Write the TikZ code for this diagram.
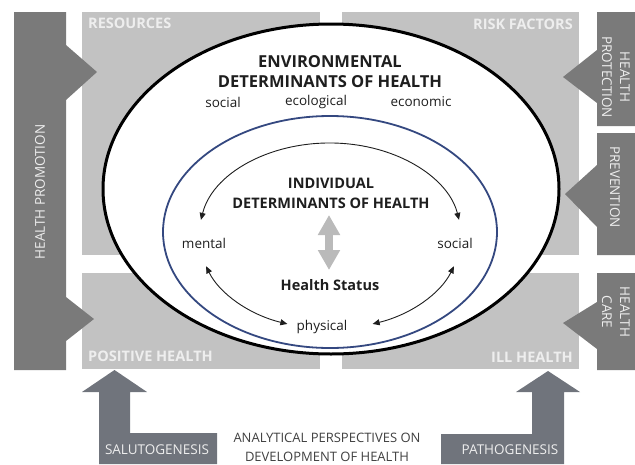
\documentclass[tikz,border=0pt]{standalone}
\usepackage{fontspec}
\setmainfont{Open Sans}
\usetikzlibrary{arrows.meta,calc}

\definecolor{bardark}{RGB}{122,122,122}
\definecolor{boxlight}{RGB}{194,194,194}
\definecolor{arrowgrey}{RGB}{112,116,124}
\definecolor{labelwhite}{RGB}{238,238,238}
\definecolor{ringblue}{RGB}{52,72,128}
\definecolor{inkgrey}{RGB}{30,30,30}
\definecolor{midgrey}{RGB}{186,186,186}

\begin{document}
\begin{tikzpicture}[x=1pt,y=-1pt,
  panel/.style={fill=boxlight,draw=none},
  bar/.style={fill=bardark,draw=none},
  paneltxt/.style={text=labelwhite,inner sep=0pt,font=\bfseries\fontsize{14.5}{16}\selectfont},
  bartxt/.style={text=labelwhite,inner sep=0pt,align=center,font=\fontsize{13.5}{18}\selectfont},
  headtxt/.style={text=inkgrey,inner sep=0pt,align=center,font=\bfseries\fontsize{16.5}{20}\selectfont},
  subhead/.style={text=inkgrey,inner sep=0pt,align=center,font=\bfseries\fontsize{14.5}{20}\selectfont},
  plaintxt/.style={text=inkgrey,inner sep=0pt,font=\fontsize{13.5}{16}\selectfont},
  cycarrow/.style={draw=inkgrey,line width=0.9pt,
    {Triangle[length=7pt,width=6pt]}-{Triangle[length=7pt,width=6pt]}},
  linkarrow/.style={draw=midgrey,line width=8pt,
    {Triangle[length=20pt,width=21pt]}-{Triangle[length=20pt,width=21pt]}}]

\useasboundingbox (0,0) rectangle (635,464);

% light panels
\fill[panel] (82,12) rectangle (320,255);
\fill[panel] (342,12) rectangle (579,255);
\fill[panel] (82,273) rectangle (320,369);
\fill[panel] (342,273) rectangle (579,369);

% health promotion bar with its two pointers
\fill[bar] (14,12) -- (66,12) -- (66,45) -- (97,72) -- (66,100) -- (66,297)
  -- (94,319) -- (66,341) -- (66,370) -- (14,370) -- cycle;

% right-hand bars pointing into the panels
\fill[bar] (597,12) -- (635,12) -- (635,126) -- (597,126) -- (597,103)
  -- (563,77) -- (597,50) -- cycle;
\fill[bar] (597,133) -- (635,133) -- (635,255) -- (597,255) -- (597,227)
  -- (565,194) -- (597,165) -- cycle;
\fill[bar] (597,273) -- (635,273) -- (635,370) -- (597,370) -- (597,349)
  -- (563,323) -- (597,302) -- cycle;

% bottom perspective arrows
\fill[arrowgrey] (114.5,370) -- (147,392) -- (130,392) -- (130,433) -- (217,433)
  -- (217,464) -- (99,464) -- (99,392) -- (82,392) -- cycle;
\fill[arrowgrey] (548,371) -- (580,392) -- (564,392) -- (564,464) -- (441,464)
  -- (441,434) -- (532,434) -- (532,392) -- (516,392) -- cycle;

% panel captions
\node[paneltxt,anchor=west] (res) at (88,23) {RESOURCES};
\node[paneltxt,anchor=east] (risk) at (573,24) {RISK FACTORS};
\node[paneltxt,anchor=west] (pos) at (88,356) {POSITIVE HEALTH};
\node[paneltxt,anchor=east] (ill) at (573,357) {ILL HEALTH};

% bar captions
\node[bartxt,rotate=90] (promo) at (40,192) {HEALTH PROMOTION};
\node[bartxt,rotate=-90] (protect) at (616,77) {HEALTH\\PROTECTION};
\node[bartxt,rotate=-90] (prevent) at (615,187) {PREVENTION};
\node[bartxt,rotate=-90] (care) at (616,312) {HEALTH\\CARE};
\node[bartxt] (saluto) at (157,450) {SALUTOGENESIS};
\node[bartxt] (patho) at (510,450) {PATHOGENESIS};
\node[plaintxt,align=center,font=\fontsize{13}{19}\selectfont,text=inkgrey!85] (persp) at (327,447)
  {ANALYTICAL PERSPECTIVES ON\\DEVELOPMENT OF HEALTH};

% environmental ring
\draw[fill=white,draw=black,line width=3pt] (331,189) ellipse [x radius=228pt, y radius=165pt];
\node[headtxt] (env) at (330,72) {ENVIRONMENTAL\\DETERMINANTS OF HEALTH};
\node[plaintxt] (esoc) at (223,102) {social};
\node[plaintxt] (eeco) at (316,102) {ecological};
\node[plaintxt] (eecon) at (421,102) {economic};

% individual ring
\draw[draw=ringblue,line width=1.8pt] (330,232) ellipse [x radius=167pt, y radius=116pt];
\node[subhead] (indiv) at (331,193) {INDIVIDUAL\\DETERMINANTS OF HEALTH};
\node[plaintxt] (mental) at (204,243) {mental};
\node[plaintxt] (social) at (455,243) {social};
\node[plaintxt] (phys) at (322,327) {physical};
\node[subhead] (status) at (330,285) {Health Status};

% cycle between the individual dimensions
\coordinate (ic) at (330,236);
\coordinate (cycA) at ($(ic)+(170:131pt and 93pt)$);
\coordinate (cycB) at ($(ic)+(-161:131pt and 93pt)$);
\coordinate (cycC) at ($(ic)+(-71:131pt and 93pt)$);
\draw[cycarrow] (cycA) arc[start angle=170,end angle=10,x radius=131pt,y radius=93pt];
\draw[cycarrow] (cycB) arc[start angle=-161,end angle=-109,x radius=131pt,y radius=93pt];
\draw[cycarrow] (cycC) arc[start angle=-71,end angle=-19,x radius=131pt,y radius=93pt];

% link between determinants and health status
\coordinate (gtop) at (329,215);
\coordinate (gbot) at (329,270);
\draw[linkarrow] (gtop) -- (gbot);

\end{tikzpicture}
\end{document}
